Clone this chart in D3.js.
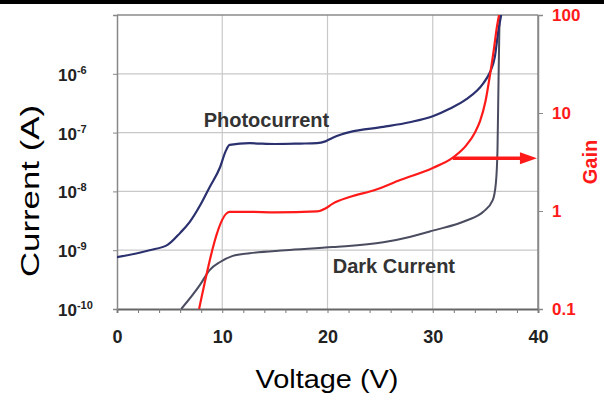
<!DOCTYPE html>
<html>
<head>
  <title>Photocurrent / Dark Current / Gain</title>
  <script src="https://d3js.org/d3.v7.min.js"></script>
  <style>
    body { margin: 0; background: #fff; }
    text { font-family: "Liberation Sans", Arial, sans-serif; }
  </style>
</head>
<body>
<svg width="604" height="394"></svg>
<script>
  // values
  const photoV = [0, 3.1, 4.8, 6.0, 6.9, 7.9, 8.8, 9.8, 10.3, 10.7, 12.6, 15, 17.4, 19.0, 19.8, 20.5, 21.3, 22.1, 25.3, 27.8, 30, 31.6, 33.2, 34.8, 35.4, 35.9, 36.2, 36.5];
  const photoI = [7.6e-10, 1.0e-9, 1.23e-9, 1.97e-9, 3.0e-9, 5.8e-9, 1.18e-8, 2.6e-8, 4.7e-8, 6.2e-8, 6.6e-8, 6.4e-8, 6.5e-8, 6.6e-8, 7.1e-8, 8.2e-8, 9.3e-8, 1.02e-7, 1.25e-7, 1.5e-7, 1.9e-7, 2.55e-7, 3.7e-7, 6.9e-7, 1.03e-6, 1.94e-6, 4.9e-6, 1e-5];

  const darkV = [6.1, 7.9, 8.8, 9.8, 11.0, 12.6, 16, 20.5, 25.3, 27.8, 30, 33.2, 34.8, 35.7, 36.0, 36.15, 36.25, 36.35];
  const darkI = [1e-10, 2.6e-10, 4.6e-10, 6.3e-10, 8.0e-10, 8.9e-10, 1.0e-9, 1.13e-9, 1.36e-9, 1.68e-9, 2.15e-9, 3.2e-9, 4.5e-9, 7.1e-9, 1.4e-8, 5e-8, 7.8e-7, 1e-5];

  const gainV = [7.8, 10.7, 12.6, 15, 19, 19.8, 20.5, 22.1, 24.5, 26.9, 30, 31.9, 33.2, 34.0, 34.5, 35.0, 35.4, 35.8, 36.1, 36.3];
  const gainG = [0.1, 0.98, 0.98, 0.97, 0.99, 1.06, 1.19, 1.39, 1.64, 2.07, 2.75, 3.5, 4.7, 6.3, 8.3, 13, 23, 44, 76, 100];

  const xTicks = [0, 10, 20, 30, 40];
  const leftTicks = [1e-10, 1e-9, 1e-8, 1e-7, 1e-6];
  const leftExp = ["-10", "-9", "-8", "-7", "-6"];
  const rightTicks = [0.1, 1, 10, 100];
  const rightLabels = ["0.1", "1", "10", "100"];

  const svg = d3.select("svg");
  const pLeft = 117, pRight = 538, pTop = 15, pBottom = 309;

  const x = d3.scaleLinear().domain([0, 40]).range([pLeft, pRight]);
  const yI = d3.scaleLog().domain([1e-10, 1e-5]).range([pBottom, pTop]);
  const yG = d3.scaleLog().domain([0.1, 100]).range([pBottom, pTop]);

  // black strip at the top
  svg.append("rect").attr("x", 0).attr("y", 0).attr("width", 604).attr("height", 4).attr("fill", "#000");

  // grid
  svg.append("g").selectAll("line").data(leftTicks.slice(1)).enter().append("line")
    .attr("x1", pLeft).attr("x2", pRight)
    .attr("y1", d => yI(d)).attr("y2", d => yI(d))
    .attr("stroke", "#c8c8c8").attr("stroke-width", 1.2);
  svg.append("g").selectAll("line").data(xTicks.slice(1, -1)).enter().append("line")
    .attr("x1", d => x(d)).attr("x2", d => x(d))
    .attr("y1", pTop).attr("y2", pBottom)
    .attr("stroke", "#c8c8c8").attr("stroke-width", 1.2);

  // frame
  svg.append("line").attr("x1", pLeft).attr("x2", pRight).attr("y1", pTop).attr("y2", pTop)
    .attr("stroke", "#8a8a8a").attr("stroke-width", 1.5);
  svg.append("line").attr("x1", pRight).attr("x2", pRight).attr("y1", pTop).attr("y2", pBottom)
    .attr("stroke", "#8a8a8a").attr("stroke-width", 1.5);

  // bottom axis
  const xAxis = svg.append("g").attr("transform", `translate(0,${pBottom})`)
    .call(d3.axisBottom(x).tickValues(d3.range(0, 41, 2)).tickSize(4)
      .tickFormat(d => xTicks.includes(d) ? d : ""));
  xAxis.select(".domain").attr("stroke", "#666").attr("stroke-width", 1.8);
  xAxis.selectAll(".tick line").attr("stroke", "#777");
  xAxis.selectAll(".tick text").attr("y", 34).attr("dy", 0)
    .attr("font-size", 18).attr("font-weight", "bold").attr("fill", "#222")
    .attr("font-family", "Liberation Sans, Arial, sans-serif");

  // left axis
  const yAxisL = svg.append("g").attr("transform", `translate(${pLeft},0)`)
    .call(d3.axisLeft(yI).tickValues(leftTicks).tickSize(4).tickFormat(""));
  yAxisL.select(".domain").attr("stroke", "#888").attr("stroke-width", 1.5);
  yAxisL.selectAll(".tick line").attr("stroke", "#888");
  const lbl = svg.append("g").selectAll("text").data(leftTicks).enter().append("text")
    .attr("x", 58).attr("y", d => yI(d) + 7)
    .attr("font-size", 17).attr("font-weight", "bold").attr("fill", "#222");
  lbl.append("tspan").text("10");
  lbl.append("tspan").attr("dy", -7).attr("font-size", 11).text((d, i) => leftExp[i]);

  // right axis
  const yAxisR = svg.append("g").attr("transform", `translate(${pRight},0)`)
    .call(d3.axisRight(yG).tickValues(rightTicks).tickSize(5).tickFormat((d, i) => rightLabels[i]));
  yAxisR.select(".domain").attr("stroke", "#8a8a8a").attr("stroke-width", 1.5);
  yAxisR.selectAll(".tick line").attr("stroke", "#888");
  yAxisR.selectAll(".tick text").attr("x", 14)
    .attr("font-size", 17).attr("font-weight", "bold").attr("fill", "#ff1a1a")
    .attr("font-family", "Liberation Sans, Arial, sans-serif");

  // curves
  svg.append("clipPath").attr("id", "plot").append("rect")
    .attr("x", pLeft).attr("y", pTop).attr("width", pRight - pLeft).attr("height", pBottom - pTop);

  function series(vs, ys, yScale, color, w) {
    const pts = vs.map((v, i) => [v, ys[i]]);
    svg.append("path").datum(pts)
      .attr("clip-path", "url(#plot)")
      .attr("fill", "none").attr("stroke", color).attr("stroke-width", w)
      .attr("stroke-linejoin", "round")
      .attr("d", d3.line().x(d => x(d[0])).y(d => yScale(d[1])).curve(d3.curveMonotoneX));
  }
  series(darkV, darkI, yI, "#4a4c60", 2);
  series(photoV, photoI, yI, "#2b306e", 2.2);
  series(gainV, gainG, yG, "#ff1a1a", 2.2);

  // arrow pointing to the gain axis
  const arrow = { v0: 31.9, v1: 39.9, g: 3.45 };
  const ay = yG(arrow.g);
  svg.append("line").attr("x1", x(arrow.v0)).attr("x2", x(arrow.v1) - 14)
    .attr("y1", ay).attr("y2", ay).attr("stroke", "#ff1a1a").attr("stroke-width", 3.5);
  svg.append("path")
    .attr("d", `M${x(arrow.v1)},${ay} L${x(arrow.v1) - 17},${ay - 6} L${x(arrow.v1) - 17},${ay + 6} Z`)
    .attr("fill", "#ff1a1a");

  // curve labels
  svg.append("text").attr("x", x(14.2)).attr("y", yI(1.24e-7)).attr("text-anchor", "middle")
    .attr("font-size", 20).attr("font-weight", "bold").attr("fill", "#333").text("Photocurrent");
  svg.append("text").attr("x", x(20.5)).attr("y", yI(4.1e-10))
    .attr("font-size", 20).attr("font-weight", "bold").attr("fill", "#333").text("Dark Current");

  // axis titles
  svg.append("text").attr("transform", "translate(39,191) rotate(-90)").attr("text-anchor", "middle")
    .attr("font-size", 26).attr("fill", "#000")
    .attr("textLength", 172).attr("lengthAdjust", "spacingAndGlyphs").text("Current (A)");
  svg.append("text").attr("x", 327).attr("y", 388).attr("text-anchor", "middle")
    .attr("font-size", 26).attr("fill", "#000")
    .attr("textLength", 143).attr("lengthAdjust", "spacingAndGlyphs").text("Voltage (V)");
  svg.append("text").attr("transform", "translate(597,162) rotate(-90)").attr("text-anchor", "middle")
    .attr("font-size", 20).attr("font-weight", "bold").attr("fill", "#ff1a1a").text("Gain");
</script>
</body>
</html>
